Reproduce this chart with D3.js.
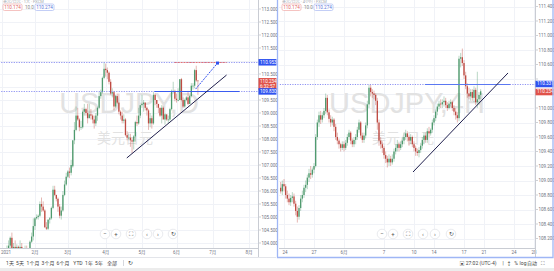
<!DOCTYPE html>
<html>
<head>
<meta charset='utf-8'>
<title></title>
<script src='https://d3js.org/d3.v7.min.js'></script>
<style>
  body { margin: 0; background: #fff; overflow: hidden; }
  svg { display: block; font-family: Roboto, 'Noto Sans CJK SC', sans-serif; }
  .grid line { stroke: #f0f2f7; stroke-width: 1; shape-rendering: crispEdges; }
  .tick-label { font-size: 4.5px; fill: #6f7280; }
  .watermark { fill: #e2e2e2; text-anchor: middle; }
  .btn circle { fill: #fff; stroke: #e3e5ea; stroke-width: 0.8; }
  .btn text { font-size: 6px; fill: #555; text-anchor: middle; }
  .tool { font-size: 5px; fill: #444; }
</style>
</head>
<body>
<script>
// USDJPY daily, 2021-01-04 .. 2021-06-18  [open, high, low, close]
var dayCandles = [
  [103.20,103.30,102.70,103.10],[103.10,103.20,102.60,102.70],[102.70,103.10,102.60,103.00],[103.00,103.90,102.90,103.80],[103.80,104.10,103.50,103.90],
  [103.90,104.25,103.70,104.20],[104.20,104.40,103.60,103.75],[103.75,104.00,103.50,103.85],[103.85,104.10,103.60,103.80],[103.80,103.95,103.50,103.85],
  [103.85,103.90,103.50,103.70],[103.70,104.10,103.60,103.85],[103.85,104.00,103.50,103.55],[103.55,103.80,103.30,103.50],[103.50,103.90,103.50,103.80],
  [103.80,103.90,103.55,103.75],[103.75,103.80,103.50,103.60],[103.60,104.10,103.50,104.05],[104.05,104.40,104.00,104.25],[104.25,104.95,104.10,104.65],
  [104.65,105.00,104.50,104.95],[104.95,105.10,104.90,105.00],[105.00,105.10,104.90,105.05],[105.05,105.60,105.00,105.50],[105.50,105.75,105.20,105.40],
  [105.40,105.60,105.20,105.25],[105.25,105.30,104.60,104.60],[104.60,104.80,104.50,104.55],[104.55,104.90,104.50,104.90],[104.90,105.00,104.75,104.95],
  [104.95,105.40,104.90,105.35],[105.35,106.20,105.30,106.05],[106.05,106.20,105.80,105.85],[105.85,105.85,105.60,105.70],[105.70,105.75,105.20,105.40],
  [105.40,105.50,104.95,105.05],[105.05,105.40,104.90,105.25],[105.25,106.00,105.20,105.85],[105.85,106.40,105.80,106.25],[106.25,106.70,106.20,106.55],
  [106.55,106.80,106.50,106.75],[106.75,106.90,106.50,106.70],[106.70,107.20,106.60,107.00],[106.95,107.95,106.90,107.95],[107.95,108.65,107.80,108.35],
  [108.35,109.25,108.30,108.90],[108.90,109.20,108.70,108.75],[108.75,108.80,108.30,108.45],[108.45,108.70,108.35,108.45],[108.45,109.10,108.40,109.05],
  [109.05,109.35,108.90,109.15],[109.15,109.20,108.90,109.00],[109.00,109.35,108.60,108.80],[108.80,109.35,108.80,108.95],[108.95,109.15,108.75,108.90],
  [108.90,108.95,108.60,108.75],[108.75,108.90,108.40,108.60],[108.60,109.00,108.50,108.90],[108.90,109.25,108.70,109.20],[109.20,109.80,109.15,109.65],
  [109.65,109.90,109.55,109.80],[109.80,110.40,109.75,110.35],[110.35,110.95,110.30,110.70],
  [110.70,110.90,110.40,110.65],[110.65,110.75,110.30,110.55],[110.55,110.60,110.10,110.20],[110.20,110.30,109.70,109.75],[109.75,109.95,109.60,109.80],
  [109.80,109.85,109.10,109.25],[109.25,109.70,109.20,109.65],[109.65,109.75,109.35,109.40],[109.40,109.75,108.95,109.05],[109.05,109.10,108.75,108.90],
  [108.90,109.05,108.60,108.70],[108.70,108.95,108.60,108.75],[108.75,108.80,108.10,108.15],[108.15,108.30,107.95,108.05],[108.05,108.20,107.95,108.05],
  [108.05,108.20,107.70,107.95],[107.95,108.05,107.45,107.90],[107.90,108.15,107.60,108.10],[108.10,108.70,107.90,108.65],[108.65,108.90,108.50,108.60],
  [108.60,109.20,108.55,108.90],[108.90,109.30,108.80,109.30],
  [109.30,109.70,109.20,109.35],[109.35,109.50,109.05,109.40],[109.40,109.40,109.10,109.20],[109.20,109.25,108.90,109.10],[109.10,109.15,108.35,108.60],
  [108.60,109.00,108.45,108.80],[108.80,108.90,108.40,108.60],[108.60,109.80,108.55,109.70],[109.70,109.75,109.30,109.50],[109.50,109.50,109.20,109.35],
  [109.35,109.30,109.00,109.20],[109.20,109.20,108.85,108.90],[108.90,109.30,108.60,109.20],[109.20,109.25,108.85,108.75],[108.75,109.00,108.55,108.95],
  [108.95,108.90,108.70,108.75],[108.75,108.90,108.60,108.75],[108.75,109.20,108.70,109.15],[109.15,109.90,109.10,109.85],[109.85,110.20,109.75,109.85],
  [109.85,109.90,109.45,109.55],
  [109.55,109.75,109.40,109.50],[109.50,109.95,109.45,109.50],[109.50,110.30,109.50,110.30],[110.30,110.35,109.45,109.50],[109.50,109.60,109.20,109.25],
  [109.25,109.55,109.20,109.50],[109.50,109.65,109.45,109.60],[109.60,109.85,109.30,109.35],[109.35,109.70,109.35,109.65],[109.65,110.15,109.60,110.05],
  [110.05,110.15,109.90,110.05],[110.05,110.70,109.95,110.65],[110.65,110.82,110.20,110.25],[110.25,110.25,109.70,110.23]
];
var dayTickIdx = [0, 20, 40, 63, 85, 106, 128, 150];
var dayTickLabels = ['2021', '2月', '3月', '4月', '5月', '6月', '7月', '8月'];
var dayPriceTicks = [104, 104.5, 105, 105.5, 106, 106.5, 107, 107.5, 108, 108.5, 109, 109.5, 110, 110.5, 111, 111.5, 112, 112.5, 113];
var dayHigh = 110.95, daySupport = 109.83;
var dayTrend = [[75.8, 107.27], [136.4, 110.46]];
var dayArrow = [[117.6, 109.92], [130.9, 110.92]];

// USDJPY 4H, 2021-05-21 16:00 .. 2021-06-18  [open, high, low, close]
var h4Candles = [
  [108.90,108.98,108.82,108.85],[108.85,109.00,108.80,108.95],
  [108.95,109.02,108.85,108.92],[108.92,108.95,108.75,108.80],[108.80,108.86,108.70,108.75],[108.75,108.82,108.66,108.70],[108.70,108.80,108.65,108.76],[108.76,108.84,108.70,108.78],
  [108.78,108.82,108.64,108.68],[108.68,108.72,108.52,108.58],[108.58,108.64,108.42,108.50],[108.50,108.66,108.46,108.62],[108.62,108.80,108.58,108.75],[108.75,108.86,108.70,108.80],
  [108.80,108.94,108.76,108.90],[108.90,109.00,108.84,108.94],[108.94,109.08,108.88,109.04],[109.04,109.16,108.98,109.10],[109.10,109.20,109.02,109.08],[109.08,109.18,109.04,109.15],
  [109.15,109.24,109.10,109.20],[109.20,109.64,109.18,109.60],[109.60,109.84,109.56,109.80],[109.80,109.95,109.74,109.90],[109.90,109.96,109.78,109.84],[109.84,109.94,109.80,109.90],
  [109.90,110.00,109.86,109.96],[109.96,110.20,109.92,110.14],[110.14,110.18,109.90,109.94],[109.94,109.98,109.80,109.85],[109.85,109.90,109.74,109.80],[109.80,109.88,109.76,109.84],
  [109.84,109.86,109.68,109.74],[109.74,109.78,109.56,109.60],[109.60,109.66,109.50,109.55],[109.55,109.58,109.44,109.50],[109.50,109.52,109.40,109.45],[109.45,109.54,109.42,109.50],
  [109.50,109.54,109.40,109.45],[109.45,109.56,109.42,109.52],[109.52,109.64,109.48,109.60],[109.60,109.70,109.56,109.66],[109.66,109.68,109.50,109.55],[109.55,109.58,109.46,109.50],
  [109.50,109.60,109.46,109.56],[109.56,109.64,109.50,109.60],[109.60,109.74,109.56,109.70],[109.70,109.84,109.66,109.80],[109.80,109.82,109.58,109.62],[109.62,109.66,109.52,109.56],
  [109.56,109.66,109.52,109.62],[109.62,109.80,109.58,109.76],[109.76,110.10,109.72,110.05],[110.05,110.32,110.00,110.28],[110.28,110.32,110.16,110.22],[110.22,110.26,110.14,110.20],
  [110.20,110.24,110.12,110.18],[110.18,110.20,110.04,110.10],[110.10,110.14,109.70,109.80],[109.80,109.84,109.48,109.55],[109.55,109.60,109.44,109.50],[109.50,109.54,109.38,109.45],
  [109.45,109.48,109.30,109.35],[109.35,109.40,109.24,109.30],[109.30,109.34,109.18,109.25],[109.25,109.36,109.20,109.30],[109.30,109.34,109.20,109.25],[109.25,109.36,109.22,109.30],
  [109.30,109.44,109.26,109.40],[109.40,109.50,109.36,109.45],[109.45,109.56,109.40,109.50],[109.50,109.52,109.40,109.45],[109.45,109.54,109.42,109.50],[109.50,109.60,109.46,109.55],
  [109.55,109.66,109.50,109.60],[109.60,109.70,109.56,109.65],[109.65,109.68,109.54,109.60],[109.60,109.62,109.48,109.55],[109.55,109.64,109.50,109.60],[109.60,109.62,109.46,109.50],
  [109.50,109.54,109.40,109.45],[109.45,109.48,109.34,109.40],[109.40,109.44,109.34,109.38],[109.38,109.46,109.32,109.42],[109.42,109.52,109.38,109.48],
  [109.48,109.60,109.44,109.56],[109.56,109.66,109.50,109.62],[109.62,109.66,109.52,109.56],[109.56,109.72,109.52,109.68],[109.68,109.74,109.60,109.65],[109.65,109.72,109.62,109.70],
  [109.70,109.84,109.66,109.80],[109.80,109.90,109.76,109.86],[109.86,109.98,109.82,109.95],[109.95,110.06,109.90,110.02],[110.02,110.10,109.98,110.06],[110.06,110.12,110.00,110.05],
  [110.05,110.12,110.00,110.08],[110.08,110.16,110.02,110.10],[110.10,110.14,110.00,110.04],[110.04,110.08,109.96,110.00],[110.00,110.10,109.98,110.06],[110.06,110.12,110.02,110.08],
  [110.08,110.10,109.96,110.00],[110.00,110.04,109.90,109.95],[109.95,110.00,109.84,109.90],[109.90,109.94,109.80,109.86],[109.86,110.72,109.82,110.68],[110.68,110.76,110.56,110.70],
  [110.70,110.82,110.58,110.62],[110.62,110.66,110.40,110.45],[110.45,110.50,110.26,110.30],[110.30,110.34,110.14,110.20],[110.20,110.28,110.12,110.16],[110.16,110.26,110.10,110.22],
  [110.22,110.26,110.10,110.14],[110.14,110.30,110.08,110.25],[110.25,110.28,110.04,110.08],[110.08,110.50,110.00,110.12],[110.12,110.22,110.04,110.18],[110.18,110.26,110.12,110.23]
];
var h4TickIdx = [2, 20, 38, 62, 80, 92, 110, 122, 140, 152];
var h4TickLabels = ['24', '27', '6月', '7', '10', '14', '17', '21', '24', '28'];
var h4PriceTicks = [108.2, 108.4, 108.6, 108.8, 109, 109.2, 109.4, 109.6, 109.8, 110, 110.2, 110.4, 110.6, 110.8, 111, 111.2, 111.4];
var h4Level = 110.331;
var h4LevelSpan = [86.6, 137.6];
var h4Trend = [[79.4, 109.117], [136.4, 110.483]];

var W = 554, H = 271;
var upColor = '#4f9a6e', downColor = '#bf4a42';

var svg = d3.select('body').append('svg')
  .attr('width', W)
  .attr('height', H);

svg.append('rect').attr('width', W).attr('height', H).attr('fill', '#fff');

function drawPanel(p) {
  var g = svg.append('g');
  var x = d3.scaleLinear().domain(p.xDomain).range(p.xRange);
  var y = d3.scaleLinear().domain(p.yDomain).range(p.yRange);
  var fmt = d3.format('.3f');
  var plotB = 248;

  // grid
  var grid = g.append('g').attr('class', 'grid');
  grid.selectAll('.h').data(p.priceTicks).enter().append('line')
    .attr('x1', p.left).attr('x2', p.right)
    .attr('y1', function(d) { return Math.round(y(d)) + 0.5; })
    .attr('y2', function(d) { return Math.round(y(d)) + 0.5; });
  grid.selectAll('.v').data(p.tickIdx).enter().append('line')
    .attr('x1', function(d) { return Math.round(x(d)) + 0.5; })
    .attr('x2', function(d) { return Math.round(x(d)) + 0.5; })
    .attr('y1', 0).attr('y2', plotB);

  // watermark
  var cx = (p.left + p.right) / 2;
  g.append('text').attr('class', 'watermark')
    .attr('x', cx).attr('y', 113)
    .style('font-size', '29px')
    .style('font-family', 'Arial, "Liberation Sans", sans-serif')
    .text(p.symbol);
  g.append('text').attr('class', 'watermark')
    .attr('x', cx - 4).attr('y', 143)
    .style('font-size', '14px')
    .text(p.desc);

  var clipId = 'clip' + p.id;
  svg.append('clipPath').attr('id', clipId).append('rect')
    .attr('x', p.left).attr('y', 0).attr('width', p.right - p.left).attr('height', plotB);
  var plot = g.append('g').attr('clip-path', 'url(#' + clipId + ')');

  // candles
  var c = plot.selectAll('.candle').data(p.candles).enter().append('g');
  c.append('line')
    .attr('x1', function(d, i) { return x(i); })
    .attr('x2', function(d, i) { return x(i); })
    .attr('y1', function(d) { return y(d[1]); })
    .attr('y2', function(d) { return y(d[2]); })
    .attr('stroke', function(d) { return d[3] >= d[0] ? upColor : downColor; })
    .attr('stroke-opacity', 0.4)
    .attr('stroke-width', 1);
  c.append('rect')
    .attr('x', function(d, i) { return x(i) - 0.65; })
    .attr('width', 1.3)
    .attr('y', function(d) { return y(Math.max(d[0], d[3])); })
    .attr('height', function(d) { return Math.max(0.7, Math.abs(y(d[0]) - y(d[3]))); })
    .attr('fill', function(d) { return d[3] >= d[0] ? upColor : downColor; });

  // drawings
  p.drawings(plot, x, y);

  // x axis
  g.append('line').attr('x1', p.left).attr('x2', p.right + 0.5)
    .attr('y1', plotB + 0.5).attr('y2', plotB + 0.5)
    .attr('stroke', '#c9ccd3');
  g.selectAll('.xl').data(p.tickIdx).enter().append('text')
    .attr('class', 'tick-label')
    .attr('x', function(d) { return Math.max(p.left + 6, x(d)); })
    .attr('y', 254)
    .attr('text-anchor', 'middle')
    .text(function(d, i) { return p.tickLabels[i]; });

  // price axis
  g.append('line').attr('x1', p.right + 0.5).attr('x2', p.right + 0.5)
    .attr('y1', 0).attr('y2', 257)
    .attr('stroke', '#c9ccd3');
  var visTicks = p.priceTicks.filter(function(t) {
    return y(t) > 4 && p.labels.every(function(l) {
      var top = y(l.price) - 3.5, bot = top + l.lines.length * 5.5 + 1;
      return y(t) < top - 2.5 || y(t) > bot + 2.5;
    });
  });
  g.selectAll('.yt').data(p.priceTicks).enter().append('line')
    .attr('x1', p.right + 1).attr('x2', p.right + 3)
    .attr('y1', function(d) { return y(d); })
    .attr('y2', function(d) { return y(d); })
    .attr('stroke', '#b0b3bb').attr('stroke-width', 0.6);
  g.selectAll('.yl').data(visTicks).enter().append('text')
    .attr('class', 'tick-label')
    .attr('x', p.right + 3.5)
    .attr('y', function(d) { return y(d) + 1.6; })
    .text(fmt);

  // price labels
  p.labels.forEach(function(l) {
    var h = l.lines.length * 5.5 + 1;
    var top = y(l.price) - 3.25;
    g.append('rect').attr('x', p.right + 0.5).attr('y', top)
      .attr('width', p.axisW).attr('height', h).attr('fill', l.color);
    l.lines.forEach(function(t, k) {
      g.append('text').attr('x', p.right + 2).attr('y', top + 4.6 + k * 5.5)
        .style('font-size', '4.6px').attr('fill', '#fff').text(t);
    });
  });

  // legend boxes
  var lg = g.append('g').attr('transform', 'translate(' + (p.left + 3) + ',4)');
  lg.append('rect').attr('width', 19).attr('height', 6.5).attr('rx', 1.5)
    .attr('fill', '#fff').attr('stroke', '#f0a9a6').attr('stroke-width', 0.7);
  lg.append('text').attr('x', 9.5).attr('y', 5).attr('text-anchor', 'middle')
    .style('font-size', '4.6px').attr('fill', '#e06666').text('110.174');
  lg.append('text').attr('x', 22).attr('y', 5)
    .style('font-size', '4.6px').attr('fill', '#888').text('10.0');
  lg.append('rect').attr('x', 32).attr('width', 19).attr('height', 6.5).attr('rx', 1.5)
    .attr('fill', '#fff').attr('stroke', '#a9b9f2').attr('stroke-width', 0.7);
  lg.append('text').attr('x', 41.5).attr('y', 5).attr('text-anchor', 'middle')
    .style('font-size', '4.6px').attr('fill', '#5b74d8').text('110.274');
  g.append('text').attr('x', p.left + 3).attr('y', 2.6)
    .style('font-size', '4px').attr('fill', '#a4a7b0').text(p.title);

  // round buttons
  var b = g.selectAll('.btn').data(p.buttons).enter().append('g').attr('class', 'btn')
    .attr('transform', function(d) { return 'translate(' + d[0] + ',234)'; });
  b.append('circle').attr('r', 4.8);
  b.append('text').attr('y', 2).text(function(d) { return d[1]; });

  return { x: x, y: y };
}

function hline(plot, x, y, price, i0, i1, color, dash, w) {
  plot.append('line')
    .attr('x1', x(i0)).attr('x2', x(i1))
    .attr('y1', Math.round(y(price)) + 0.5).attr('y2', Math.round(y(price)) + 0.5)
    .attr('stroke', color).attr('stroke-width', w || 1)
    .attr('stroke-dasharray', dash);
}

// left panel: daily
drawPanel({
  id: 'd', left: 0, right: 258, axisW: 18,
  xDomain: [0, 155.5], xRange: [2, 258],
  yDomain: [104, 113], yRange: [243, 9],
  candles: dayCandles, tickIdx: dayTickIdx, tickLabels: dayTickLabels, priceTicks: dayPriceTicks,
  symbol: 'USDJPY,D', desc: '美元日元', title: '美元/日元 · 1天 · FXCM',
  buttons: [[105, '−'], [116, '+'], [131, '⛶'], [147, '‹'], [158, '›'], [173, '↻']],
  labels: [
    { price: dayHigh, color: '#2f52f0', lines: ['110.953'] },
    { price: 110.22, color: '#e0524a', lines: ['110.234', '6:32:57'] },
    { price: daySupport, color: '#2f52f0', lines: ['109.830'] }
  ],
  drawings: function(plot, x, y) {
    hline(plot, x, y, dayHigh, -2, 160, '#8f93f2', '1.2,1.3');
    hline(plot, x, y, dayHigh, 104.8, 136.4, '#e57373', '2,1');
    hline(plot, x, y, daySupport, -2, 160, '#8f93f2', '1.2,1.3');
    hline(plot, x, y, daySupport, 92.7, 144.2, '#3b5cf0');
    plot.append('line')
      .attr('x1', x(dayTrend[0][0])).attr('y1', y(dayTrend[0][1]))
      .attr('x2', x(dayTrend[1][0])).attr('y2', y(dayTrend[1][1]))
      .attr('stroke', '#1f1f4d').attr('stroke-width', 1);
    plot.append('line')
      .attr('x1', x(dayArrow[0][0])).attr('y1', y(dayArrow[0][1]))
      .attr('x2', x(dayArrow[1][0])).attr('y2', y(dayArrow[1][1]))
      .attr('stroke', '#3553f0').attr('stroke-width', 1).attr('stroke-dasharray', '2,1');
    plot.append('rect')
      .attr('x', x(dayArrow[1][0]) - 1.5).attr('y', y(dayArrow[1][1]) - 1.5)
      .attr('width', 3).attr('height', 3).attr('fill', '#2f52f0');
  }
});

// right panel: 4H
drawPanel({
  id: 'h', left: 279, right: 535, axisW: 18,
  xDomain: [2, 152], xRange: [284, 534],
  yDomain: [108.2, 111.4], yRange: [238.5, 6.5],
  candles: h4Candles, tickIdx: h4TickIdx, tickLabels: h4TickLabels, priceTicks: h4PriceTicks,
  symbol: 'USDJPY,4H', desc: '美元/日元', title: '美元/日元 · 4小时 · FXCM',
  buttons: [[382, '−'], [393, '+'], [408, '⛶'], [423, '‹'], [435, '›'], [451, '↻']],
  labels: [
    { price: h4Level, color: '#2f52f0', lines: ['110.331'] },
    { price: 110.22, color: '#e0524a', lines: ['110.234'] }
  ],
  drawings: function(plot, x, y) {
    hline(plot, x, y, h4Level, -5, 160, '#8f93f2', '1.2,1.3');
    hline(plot, x, y, h4Level, h4LevelSpan[0], h4LevelSpan[1], '#5b78f2', null, 1.2);
    plot.append('line')
      .attr('x1', x(h4Trend[0][0])).attr('y1', y(h4Trend[0][1]))
      .attr('x2', x(h4Trend[1][0])).attr('y2', y(h4Trend[1][1]))
      .attr('stroke', '#1f1f4d').attr('stroke-width', 1);
  }
});

// bottom toolbars
svg.append('line').attr('x1', 0).attr('x2', 276).attr('y1', 257.5).attr('y2', 257.5).attr('stroke', '#e3e5ea');
var ranges = [[10, '1天'], [20, '5天'], [33, '1个月'], [48, '3个月'], [63, '6个月'], [78, 'YTD'], [89, '1年'], [99, '5年'], [112, '全部']];
svg.selectAll('.rg').data(ranges).enter().append('text')
  .attr('class', 'tool').attr('x', function(d) { return d[0]; }).attr('y', 264.5)
  .attr('text-anchor', 'middle').text(function(d) { return d[1]; });
svg.append('line').attr('x1', 123.5).attr('x2', 123.5).attr('y1', 260).attr('y2', 266).attr('stroke', '#d5d7dd');
svg.append('text').attr('class', 'tool').attr('x', 130).attr('y', 265).attr('text-anchor', 'middle')
  .style('font-size', '6px').text('↻');

var rtools = [[478, '▣ 27:02 (UTC-4)'], [503, '|'], [509, '↕'], [516, '%'], [523, 'log'], [532, '自动'], [543, '⛶']];
svg.selectAll('.rt').data(rtools).enter().append('text')
  .attr('class', 'tool').attr('x', function(d) { return d[0]; }).attr('y', 264.5)
  .attr('text-anchor', 'middle').text(function(d) { return d[1]; });

svg.append('rect').attr('x', 0).attr('y', 268).attr('width', W).attr('height', 3).attr('fill', '#ececec');

// selected panel border
svg.append('path')
  .attr('d', 'M277.5,0 V257.5 H553 V0')
  .attr('fill', 'none').attr('stroke', '#9fb6f5').attr('stroke-width', 1.3);
</script>
</body>
</html>
